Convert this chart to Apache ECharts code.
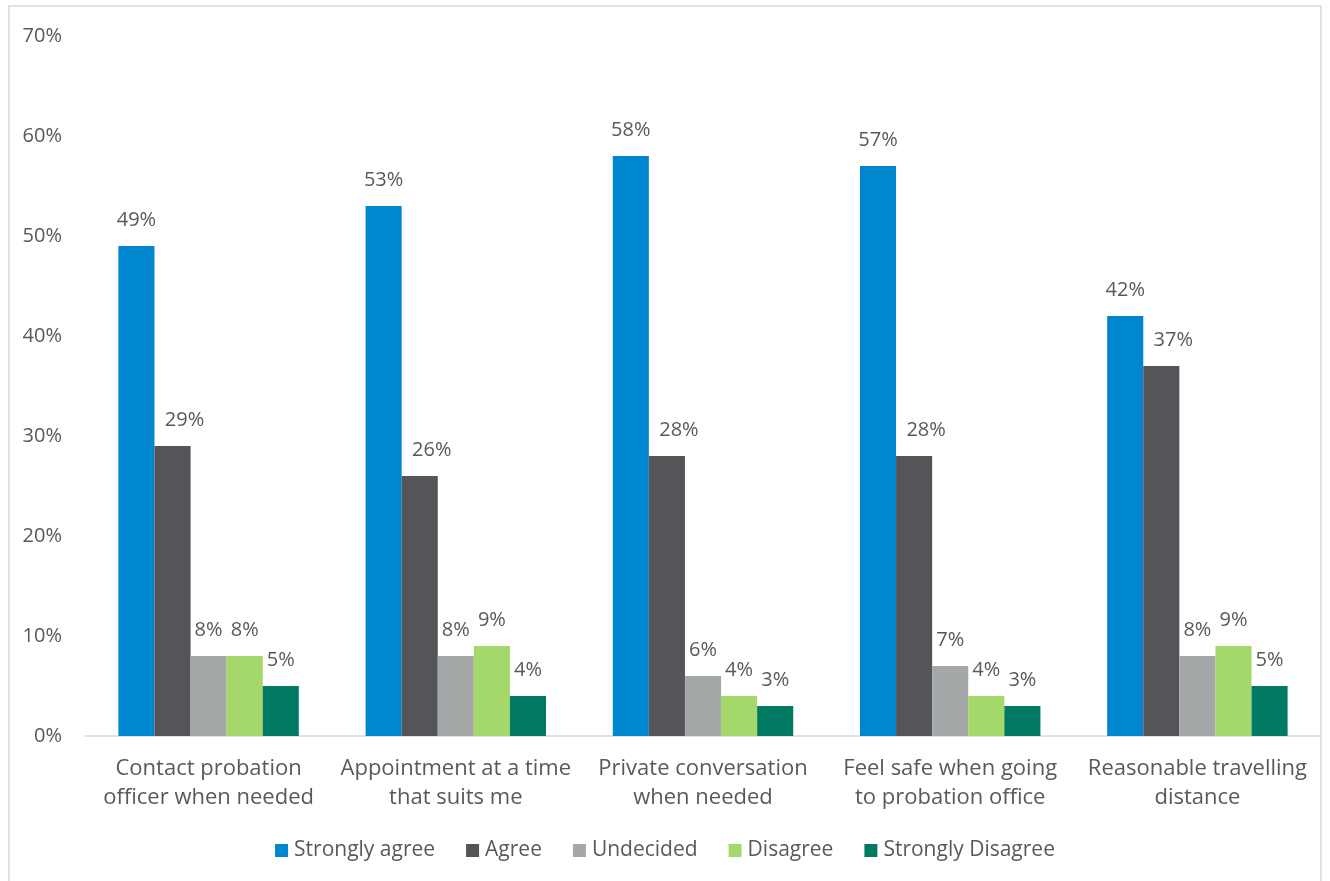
<!DOCTYPE html>
<html>
<head>
<meta charset="utf-8">
<script src="https://cdn.jsdelivr.net/npm/echarts@6/dist/echarts.min.js"></script>
<style>
html,body{margin:0;padding:0;background:#fff;}
#chart{width:1330px;height:881px;}
</style>
</head>
<body>
<div id="chart"></div>
<script>
const categories = [
  'Contact probation\nofficer when needed',
  'Appointment at a time\nthat suits me',
  'Private conversation\nwhen needed',
  'Feel safe when going\nto probation office',
  'Reasonable travelling\ndistance'
];
const seriesNames = ['Strongly agree', 'Agree', 'Undecided', 'Disagree', 'Strongly Disagree'];
const stronglyAgree = [49, 53, 58, 57, 42];
const agree = [29, 26, 28, 28, 37];
const undecided = [8, 8, 6, 7, 8];
const disagree = [8, 9, 4, 4, 9];
const stronglyDisagree = [5, 4, 3, 3, 5];
const yTicks = [0, 10, 20, 30, 40, 50, 60, 70];

const colors = ['#0085CF', '#545459', '#A5A8A8', '#A4D86A', '#007A62'];
const allData = [stronglyAgree, agree, undecided, disagree, stronglyDisagree];
const labelOffsets = [[0, 0], [12, 0], [0, 0], [0, 0], [0, 0]];
const font = '"Open Sans", "Noto Sans", sans-serif';
const textColor = '#595959';

const chart = echarts.init(document.getElementById('chart'), null, {renderer: 'canvas'});
chart.setOption({
  animation: false,
  color: colors,
  textStyle: {fontFamily: font, color: textColor},
  grid: {left: 85, right: 9, top: 36, bottom: 145, containLabel: false},
  legend: {
    top: 840,
    left: 'center',
    padding: 0,
    itemWidth: 13,
    itemHeight: 13,
    itemGap: 31,
    icon: 'rect',
    textStyle: {fontFamily: font, fontSize: 21, color: textColor, padding: [0, 0, 0, 1]},
    data: seriesNames
  },
  xAxis: {
    type: 'category',
    data: categories,
    axisLine: {show: true, lineStyle: {color: '#D9D9D9', width: 1.5}},
    axisTick: {show: false},
    axisLabel: {fontFamily: font, fontSize: 22, color: textColor, margin: 18, lineHeight: 29, interval: 0}
  },
  yAxis: {
    type: 'value',
    min: yTicks[0],
    max: yTicks[yTicks.length - 1],
    interval: 10,
    splitLine: {show: false},
    axisLine: {show: false},
    axisTick: {show: false},
    axisLabel: {fontFamily: font, fontSize: 20, color: textColor, margin: 23, formatter: v => v + '%'}
  },
  graphic: [{
    type: 'rect',
    shape: {x: 9, y: 6, width: 1312, height: 900},
    style: {fill: 'none', stroke: '#D9D9D9', lineWidth: 1.5},
    silent: true
  }],
  series: seriesNames.map((name, i) => ({
    name: name,
    type: 'bar',
    data: allData[i],
    barGap: '0%',
    barCategoryGap: '27%',
    label: {
      show: true,
      position: 'top',
      distance: 16,
      offset: labelOffsets[i],
      fontFamily: font,
      fontSize: 20,
      color: textColor,
      formatter: p => p.value + '%'
    }
  }))
});
</script>
</body>
</html>
